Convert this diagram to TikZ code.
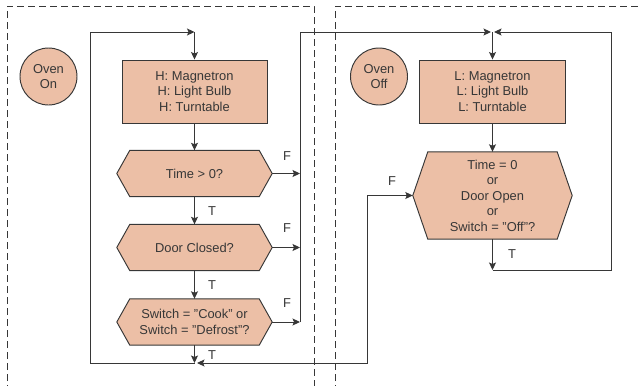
\documentclass[tikz,border=0pt]{standalone}
\usepackage{fontspec}
\setmainfont{Liberation Sans}
\usetikzlibrary{arrows.meta,backgrounds}
\definecolor{peach}{RGB}{236,191,166}
\definecolor{ink}{RGB}{55,55,55}
\tikzset{
  every node/.style={font=\fontsize{12.9pt}{15.5pt}\selectfont, text=ink},
  conn/.style={draw=ink, line width=0.95pt},
  tip/.style={-{Stealth[length=7.5pt,width=7pt,inset=1.5pt]}},
  statecircle/.style={circle, draw=ink, line width=0.95pt, fill=peach, minimum size=57pt, inner sep=0pt, align=center},
  actionbox/.style={rectangle, draw=ink, line width=0.95pt, fill=peach, minimum width=145pt, minimum height=63pt, align=center},
  testbox/.style={rectangle, inner sep=0pt, align=center},
  hexshape/.style={draw=ink, line width=0.95pt, fill=peach, line join=miter},
  border/.style={draw=ink, line width=0.85pt, dash pattern=on 7pt off 4pt},
  flag/.style={inner sep=0pt}
}
\begin{document}
\begin{tikzpicture}[x=1pt, y=-1pt]
\useasboundingbox (0,0) rectangle (638,386);

% state regions
\draw[border] (7,392) -- (7,6) -- (314,6) -- (314,392);
\draw[border] (335,392) -- (335,6) -- (644,6);

% states
\node[statecircle] (on) at (48.5,76.5) {Oven\\On};
\node[statecircle] (off) at (379,76.5) {Oven\\Off};

% actions
\node[actionbox] (hbox) at (194.5,91.5) {H: Magnetron\\H: Light Bulb\\H: Turntable};
\node[actionbox, minimum width=146pt] (lbox) at (492.5,91.5) {L: Magnetron\\L: Light Bulb\\L: Turntable};

% tests
\node[testbox, minimum width=155pt, minimum height=46pt] (t1) at (194.5,173.5) {Time > 0?};
\node[testbox, minimum width=155pt, minimum height=46pt] (t2) at (194.5,247.5) {Door Closed?};
\node[testbox, minimum width=155pt, minimum height=46pt] (t3) at (194.5,322) {Switch = "Cook" or\\Switch = "Defrost"?};
\node[testbox, minimum width=159pt, minimum height=87pt] (t4) at (492.5,195.5) {Time = 0\\or\\Door Open\\or\\Switch = "Off"?};

\begin{scope}[on background layer]
  \foreach \n/\s in {t1/13, t2/13, t3/13, t4/15}{
    \draw[hexshape] (\n.west) -- ([xshift=\s pt]\n.north west) -- ([xshift=-\s pt]\n.north east)
      -- (\n.east) -- ([xshift=-\s pt]\n.south east) -- ([xshift=\s pt]\n.south west) -- cycle;
  }
\end{scope}

% junction points
\coordinate (ontop) at (194.5,32);
\coordinate (onbot) at (194.5,363);
\coordinate (onbotin) at (197,363);
\coordinate (loopL1) at (90,363);
\coordinate (loopL2) at (90,32);
\coordinate (fbus3) at (300,322);
\coordinate (fbus2) at (300,247.5);
\coordinate (fbus1) at (300,173.5);
\coordinate (fbustop) at (300,32);
\coordinate (offtopL) at (491,32);
\coordinate (offtopR) at (494,32);
\coordinate (offtop) at (492.5,32);
\coordinate (offbot) at (492.5,270);
\coordinate (loopR1) at (611,270);
\coordinate (loopR2) at (611,32);
\coordinate (ret1) at (367,363);
\coordinate (ret2) at (367,195.5);

% Oven On flow
\draw[conn, tip] (loopL1) -- (loopL2) -- (ontop);
\draw[conn] (onbot) -- (loopL1);
\draw[conn, tip] (ontop) -- (hbox.north);
\draw[conn, tip] (hbox.south) -- (t1.north);
\draw[conn, tip] (t1.south) -- (t2.north);
\draw[conn, tip] (t2.south) -- (t3.north);
\draw[conn, tip] (t3.south) -- (onbot);
\draw[conn, tip] (t1.east) -- (fbus1);
\draw[conn, tip] (t2.east) -- (fbus2);
\draw[conn, tip] (t3.east) -- (fbus3);
\draw[conn, tip] (fbus3) -- (fbustop) -- (offtopL);

% Oven Off flow
\draw[conn, tip] (offtop) -- (lbox.north);
\draw[conn, tip] (lbox.south) -- (t4.north);
\draw[conn, tip] (t4.south) -- (offbot);
\draw[conn, tip] (offbot) -- (loopR1) -- (loopR2) -- (offtopR);
\draw[conn, {Stealth[length=7.5pt,width=7pt,inset=1.5pt]}-{Stealth[length=7.5pt,width=7pt,inset=1.5pt]}]
  (onbotin) -- (ret1) -- (ret2) -- (t4.west);

% branch labels
\node[flag] (f1) at (287,156) {F};
\node[flag] (f2) at (287,228) {F};
\node[flag] (f3) at (287,303) {F};
\node[flag] (f4) at (392,181) {F};
\node[flag] (tt1) at (212,211) {T};
\node[flag] (tt2) at (212,285) {T};
\node[flag] (tt3) at (212,355) {T};
\node[flag] (tt4) at (512,254) {T};
\end{tikzpicture}
\end{document}
